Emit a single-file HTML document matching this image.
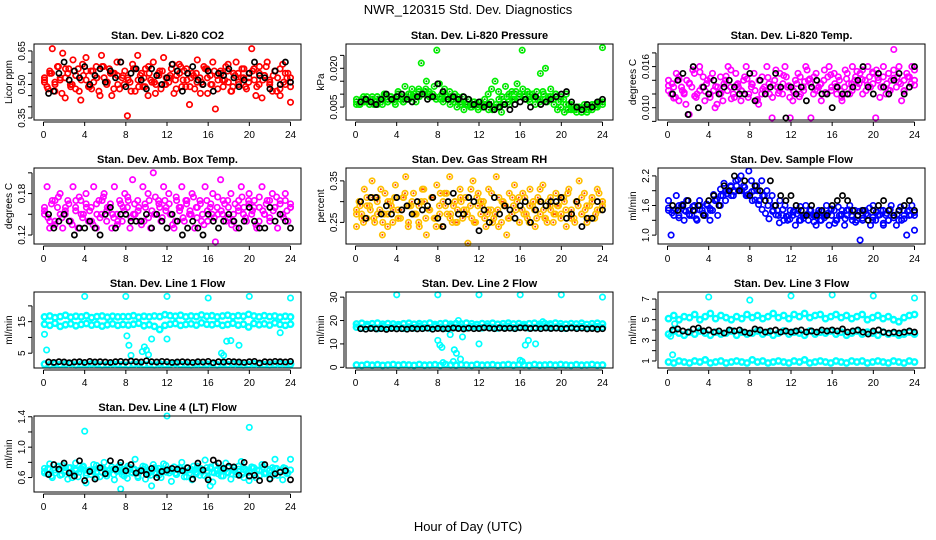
<!DOCTYPE html>
<html><head><meta charset="utf-8"><style>
html,body{margin:0;padding:0;background:#fff}
svg{display:block;font-family:"Liberation Sans",Arial,sans-serif}
</style></head><body>
<svg id="chart" width="936" height="540" viewBox="0 0 936 540" xmlns="http://www.w3.org/2000/svg">
<rect x="0" y="0" width="936" height="540" fill="#fff"/>
<text x="468" y="14" text-anchor="middle" font-size="13">NWR_120315  Std. Dev. Diagnostics</text>
<text x="468" y="531" text-anchor="middle" font-size="13">Hour of Day (UTC)</text>
</svg>
<script>
const hourTicks=[0,4,8,12,16,20,24];

const co2Colored=[0.53,0.49,0.56,0.66,0.47,0.58,0.52,0.64,0.44,0.55,0.50,0.61,0.48,0.57,0.43,0.54,0.62,0.49,0.56,0.51,0.58,0.47,0.63,0.53,0.50,0.57,0.45,0.55,0.60,0.48,0.53,0.56,0.36,0.51,0.59,0.47,0.63,0.54,0.49,0.57,0.45,0.52,0.60,0.50,0.55,0.48,0.62,0.53,0.51,0.57,0.46,0.54,0.59,0.49,0.56,0.52,0.41,0.55,0.48,0.61,0.53,0.50,0.57,0.46,0.54,0.60,0.39,0.52,0.56,0.49,0.58,0.51,0.47,0.55,0.60,0.50,0.53,0.57,0.48,0.55,0.66,0.52,0.49,0.58,0.44,0.54,0.60,0.51,0.47,0.56,0.53,0.45,0.59,0.50,0.55,0.42];
const co2Colored2=[0.51,0.55,0.50,0.53,0.57,0.49,0.54,0.52,0.56,0.48,0.53,0.58,0.51,0.55,0.50,0.54,0.52,0.57,0.49,0.53,0.55,0.51,0.56,0.50,0.54,0.52,0.58,0.49,0.53,0.55,0.51,0.57,0.50,0.54,0.52,0.56,0.49,0.55,0.53,0.51,0.57,0.50,0.54,0.52,0.56,0.48,0.55,0.53];
const co2Colored3=[0.52,0.48,0.55,0.51,0.58,0.46,0.53,0.57,0.50,0.54,0.47,0.59,0.52,0.49,0.56,0.53,0.45,0.58,0.51,0.55,0.48,0.54,0.60,0.50,0.53,0.47,0.57,0.52,0.55,0.49,0.58,0.51,0.46,0.54,0.56,0.50,0.53,0.59,0.48,0.55,0.52,0.57,0.49,0.54,0.51,0.46,0.58,0.53,0.50,0.56,0.48,0.55,0.52,0.59,0.47,0.54,0.51,0.57,0.49,0.53,0.56,0.45,0.55,0.52,0.58,0.50,0.54,0.47,0.57,0.51,0.53,0.49];
const co2Black=[0.46,0.47,0.55,0.60,0.52,0.56,0.53,0.58,0.50,0.54,0.57,0.51,0.56,0.53,0.60,0.49,0.55,0.57,0.52,0.48,0.57,0.54,0.50,0.53,0.59,0.56,0.47,0.55,0.58,0.52,0.50,0.56,0.47,0.55,0.54,0.57,0.53,0.49,0.52,0.55,0.60,0.54,0.53,0.48,0.56,0.50,0.60,0.51];

const presColored=[0.007,0.006,0.008,0.007,0.009,0.006,0.008,0.007,0.009,0.008,0.006,0.010,0.007,0.009,0.008,0.006,0.010,0.008,0.007,0.009,0.008,0.010,0.009,0.007,0.012,0.022,0.010,0.015,0.011,0.009,0.013,0.027,0.014,0.010,0.012,0.009,0.011,0.008,0.010,0.009,0.007,0.009,0.006,0.008,0.005,0.007,0.006,0.004,0.007,0.005,0.006,0.004,0.007,0.005,0.006,0.008,0.003,0.007,0.009,0.006,0.011,0.008,0.014,0.010,0.027,0.009,0.011,0.007,0.010,0.006,0.008,0.018,0.011,0.020,0.009,0.012,0.008,0.010,0.007,0.009,0.008,0.010,0.006,0.005,0.004,0.003,0.005,0.004,0.006,0.003,0.005,0.004,0.006,0.005,0.007,0.028];
const presColored2=[0.006,0.008,0.007,0.009,0.006,0.008,0.007,0.008,0.009,0.007,0.008,0.010,0.009,0.011,0.010,0.009,0.008,0.010,0.009,0.008,0.007,0.006,0.005,0.006,0.005,0.006,0.004,0.005,0.006,0.007,0.008,0.009,0.010,0.008,0.009,0.007,0.008,0.009,0.010,0.008,0.006,0.004,0.005,0.003,0.004,0.005,0.006,0.007];
const presColored3=[0.008,0.006,0.009,0.007,0.008,0.006,0.009,0.007,0.010,0.008,0.009,0.007,0.011,0.009,0.013,0.010,0.012,0.009,0.011,0.010,0.012,0.009,0.010,0.008,0.009,0.007,0.008,0.006,0.007,0.005,0.006,0.004,0.006,0.005,0.007,0.005,0.006,0.008,0.010,0.012,0.015,0.011,0.009,0.013,0.010,0.008,0.011,0.009,0.012,0.008,0.010,0.009,0.011,0.008,0.010,0.007,0.009,0.006,0.004,0.005,0.003,0.004,0.006,0.004,0.005,0.003,0.005,0.004,0.006,0.005,0.007,0.006];
const presBlack=[0.007,0.008,0.007,0.006,0.008,0.010,0.008,0.009,0.010,0.008,0.007,0.009,0.010,0.008,0.009,0.014,0.011,0.008,0.009,0.008,0.009,0.008,0.006,0.007,0.005,0.006,0.004,0.005,0.006,0.004,0.006,0.007,0.008,0.005,0.009,0.006,0.007,0.008,0.009,0.010,0.011,0.007,0.005,0.004,0.006,0.005,0.007,0.008];

const tempColored=[0.014,0.012,0.013,0.015,0.011,0.013,0.012,0.014,0.009,0.013,0.015,0.012,0.016,0.013,0.011,0.014,0.012,0.015,0.010,0.013,0.012,0.011,0.014,0.016,0.013,0.012,0.015,0.013,0.011,0.014,0.016,0.012,0.013,0.015,0.011,0.014,0.012,0.013,0.016,0.012,0.0085,0.014,0.013,0.015,0.012,0.016,0.013,0.0085,0.011,0.014,0.015,0.012,0.013,0.016,0.014,0.0085,0.012,0.015,0.013,0.011,0.014,0.012,0.016,0.013,0.015,0.012,0.014,0.011,0.013,0.015,0.012,0.016,0.014,0.013,0.015,0.012,0.014,0.016,0.013,0.015,0.0085,0.014,0.013,0.016,0.012,0.015,0.014,0.0185,0.013,0.016,0.011,0.014,0.015,0.013,0.016,0.014];
const tempColored2=[0.0132,0.0114,0.0141,0.0122,0.0136,0.0117,0.0152,0.0124,0.0143,0.0131,0.0121,0.0146,0.0113,0.0133,0.0124,0.0142,0.0134,0.0112,0.0127,0.0144,0.0133,0.0121,0.0147,0.0132,0.0123,0.0116,0.0138,0.0142,0.0126,0.0134,0.0122,0.0148,0.0131,0.0124,0.0142,0.0135,0.0153,0.0141,0.0133,0.0152,0.0144,0.0131,0.0126,0.0143,0.0137,0.0124,0.0145,0.0133];
const tempColored3=[0.0125,0.0135,0.0115,0.0145,0.0125,0.0105,0.0135,0.0155,0.0115,0.0125,0.0145,0.0135,0.0115,0.0125,0.0105,0.0145,0.0135,0.0125,0.0155,0.0115,0.0135,0.0125,0.0145,0.0115,0.0135,0.0125,0.0105,0.0145,0.0125,0.0135,0.0115,0.0155,0.0125,0.0135,0.0145,0.0115,0.0125,0.0135,0.0145,0.0125,0.0155,0.0135,0.0145,0.0125,0.0135,0.0155,0.0145,0.0125,0.0135,0.0145,0.0115,0.0155,0.0135,0.0125,0.0145,0.0135,0.0155,0.0125,0.0145,0.0135,0.0155,0.0115,0.0145,0.0135,0.0125,0.0155,0.0145,0.0135,0.0125,0.0145,0.0135,0.0155];
const tempBlack=[0.012,0.014,0.015,0.009,0.016,0.010,0.013,0.012,0.014,0.012,0.013,0.014,0.013,0.012,0.012,0.015,0.011,0.014,0.012,0.013,0.015,0.013,0.0085,0.013,0.012,0.013,0.011,0.013,0.014,0.012,0.012,0.010,0.013,0.012,0.012,0.013,0.014,0.016,0.013,0.012,0.015,0.013,0.012,0.014,0.015,0.012,0.013,0.016];

const ambColored=[0.15,0.19,0.13,0.17,0.14,0.16,0.18,0.13,0.15,0.17,0.14,0.19,0.16,0.13,0.17,0.15,0.18,0.14,0.16,0.19,0.13,0.17,0.15,0.18,0.14,0.16,0.13,0.19,0.15,0.17,0.14,0.18,0.16,0.13,0.20,0.15,0.17,0.14,0.19,0.16,0.18,0.13,0.21,0.15,0.17,0.14,0.19,0.16,0.18,0.15,0.13,0.17,0.16,0.19,0.14,0.17,0.15,0.18,0.13,0.16,0.17,0.15,0.19,0.14,0.16,0.18,0.11,0.15,0.20,0.17,0.14,0.16,0.18,0.15,0.13,0.17,0.19,0.16,0.14,0.18,0.15,0.17,0.13,0.16,0.19,0.15,0.17,0.14,0.18,0.16,0.13,0.17,0.15,0.18,0.14,0.16];
const ambColored2=[0.16,0.14,0.17,0.15,0.16,0.14,0.17,0.15,0.16,0.14,0.15,0.17,0.16,0.15,0.14,0.16,0.17,0.15,0.16,0.14,0.17,0.15,0.16,0.17,0.15,0.14,0.16,0.17,0.15,0.16,0.14,0.17,0.15,0.16,0.15,0.17,0.14,0.16,0.15,0.17,0.16,0.14,0.15,0.17,0.16,0.15,0.17,0.16];
const ambColored3=[0.155,0.145,0.165,0.135,0.175,0.145,0.155,0.165,0.135,0.155,0.175,0.145,0.165,0.155,0.135,0.165,0.145,0.175,0.155,0.165,0.145,0.135,0.165,0.155,0.175,0.145,0.165,0.155,0.135,0.165,0.145,0.155,0.175,0.165,0.145,0.155,0.165,0.135,0.175,0.155,0.145,0.165,0.155,0.175,0.145,0.165,0.135,0.155,0.165,0.145,0.175,0.155,0.165,0.145,0.135,0.165,0.155,0.175,0.145,0.165,0.155,0.135,0.175,0.155,0.165,0.145,0.155,0.175,0.165,0.145,0.155,0.165];
const ambBlack=[0.15,0.13,0.14,0.15,0.14,0.12,0.13,0.13,0.14,0.13,0.12,0.15,0.16,0.13,0.15,0.15,0.14,0.14,0.14,0.15,0.13,0.15,0.14,0.13,0.15,0.14,0.12,0.13,0.14,0.13,0.12,0.15,0.14,0.13,0.14,0.15,0.14,0.13,0.14,0.16,0.14,0.13,0.13,0.16,0.14,0.15,0.14,0.13];

const rhColored=[0.24,0.30,0.27,0.33,0.26,0.29,0.35,0.25,0.31,0.28,0.22,0.32,0.27,0.30,0.25,0.34,0.28,0.26,0.31,0.36,0.24,0.29,0.32,0.27,0.25,0.30,0.33,0.22,0.28,0.31,0.26,0.34,0.29,0.24,0.32,0.27,0.36,0.25,0.30,0.28,0.33,0.26,0.31,0.20,0.29,0.35,0.25,0.32,0.27,0.30,0.24,0.33,0.28,0.26,0.36,0.31,0.25,0.29,0.22,0.32,0.27,0.34,0.30,0.25,0.28,0.31,0.26,0.33,0.29,0.24,0.31,0.27,0.34,0.26,0.30,0.28,0.25,0.32,0.29,0.27,0.31,0.24,0.33,0.28,0.26,0.30,0.35,0.27,0.32,0.25,0.29,0.31,0.26,0.33,0.28,0.30];
const rhColored2=[0.28,0.26,0.29,0.31,0.27,0.25,0.30,0.28,0.26,0.31,0.29,0.27,0.24,0.30,0.28,0.26,0.32,0.29,0.27,0.25,0.30,0.28,0.26,0.31,0.29,0.27,0.25,0.28,0.30,0.26,0.29,0.31,0.27,0.25,0.28,0.30,0.26,0.29,0.27,0.31,0.28,0.26,0.30,0.27,0.29,0.31,0.28,0.30];
const rhColored3=[0.27,0.29,0.25,0.31,0.28,0.26,0.30,0.33,0.27,0.24,0.29,0.31,0.26,0.28,0.32,0.25,0.30,0.27,0.29,0.33,0.26,0.28,0.31,0.24,0.27,0.30,0.32,0.26,0.29,0.25,0.31,0.28,0.27,0.33,0.25,0.29,0.30,0.26,0.28,0.32,0.27,0.24,0.30,0.29,0.26,0.31,0.28,0.25,0.32,0.27,0.29,0.30,0.26,0.33,0.28,0.25,0.31,0.27,0.29,0.26,0.30,0.32,0.27,0.25,0.29,0.31,0.28,0.26,0.30,0.27,0.32,0.29];
const rhBlack=[0.30,0.26,0.31,0.31,0.27,0.29,0.27,0.31,0.28,0.29,0.27,0.30,0.28,0.29,0.31,0.26,0.24,0.30,0.32,0.27,0.27,0.31,0.30,0.23,0.28,0.25,0.31,0.27,0.29,0.28,0.26,0.29,0.30,0.25,0.28,0.30,0.29,0.30,0.30,0.31,0.26,0.27,0.30,0.24,0.26,0.26,0.30,0.28];

const flowColored=[1.7,1.0,1.5,1.8,1.4,1.6,1.3,1.7,1.5,1.4,1.6,1.3,1.7,1.5,1.4,1.6,1.3,1.5,1.7,1.4,1.6,1.8,1.7,1.9,2.0,1.8,2.1,1.9,2.2,2.0,1.8,2.3,2.1,1.9,2.0,1.7,2.1,1.8,1.9,1.7,1.8,1.6,1.5,1.7,1.4,1.6,1.3,1.5,1.4,1.2,1.5,1.3,1.4,1.6,1.3,1.5,1.4,1.2,1.5,1.3,1.4,1.6,1.2,1.4,1.5,1.3,1.4,1.5,1.2,1.4,1.6,1.3,1.5,1.4,0.9,1.3,1.5,1.4,1.2,1.6,1.3,1.4,1.5,1.2,1.4,1.3,1.6,1.4,1.2,1.5,1.3,1.4,1.0,1.5,1.6,1.1];
const flowColored2=[1.5,1.4,1.6,1.5,1.4,1.5,1.6,1.4,1.5,1.7,1.8,1.9,1.8,2.0,1.9,1.8,1.7,1.9,1.8,1.6,1.5,1.4,1.3,1.4,1.5,1.3,1.4,1.5,1.4,1.3,1.4,1.5,1.3,1.4,1.5,1.4,1.3,1.5,1.4,1.3,1.4,1.5,1.3,1.4,1.3,1.5,1.4,1.4];
const flowColored3=[1.55,1.45,1.52,1.35,1.62,1.48,1.42,1.58,1.33,1.51,1.44,1.63,1.54,1.82,1.72,1.93,2.05,1.84,1.98,1.88,2.12,1.91,1.97,1.82,1.88,1.71,1.62,1.52,1.44,1.33,1.48,1.41,1.25,1.52,1.38,1.32,1.47,1.43,1.58,1.34,1.42,1.51,1.27,1.43,1.49,1.35,1.44,1.53,1.24,1.57,1.42,1.33,1.51,1.38,1.26,1.48,1.34,1.43,1.55,1.36,1.47,1.41,1.24,1.44,1.52,1.35,1.42,1.57,1.33,1.48,1.41,1.46];
const flowBlack=[1.6,1.5,1.6,1.7,1.5,1.6,1.4,1.7,1.8,1.6,2.0,1.9,2.2,1.9,2.1,1.8,2.0,1.9,1.7,2.1,1.6,1.8,1.7,1.8,1.6,1.5,1.4,1.6,1.4,1.5,1.4,1.6,1.7,1.8,1.7,1.5,1.4,1.5,1.3,1.5,1.6,1.7,1.5,1.4,1.5,1.6,1.7,1.5];

const line1BandA=[16.5,16.8,16.3,16.6,17,16.4,16.7,16.5,16.9,16.3,16.6,16.8,16.4,16.7,16.5,16.6,16.6,16.9,16.4,16.7,16.5,16.8,16.6,17.2,16.9,16.7,17,16.5,16.8,16.6,17.1,16.7,16.9,16.5,16.8,17,16.6,16.9,16.7,17.3,16.8,16.5,16.9,16.6,16.8,16.4,16.7,16.5];
const line1BandB=[14.2,13.8,14.5,13.5,14,14.3,13.7,14.1,14.4,13.9,14.2,13.6,14,14.3,13.8,14.1,13.9,14.2,14.5,13.7,14,13.5,12.5,13.8,14.2,14.4,13.8,14.1,14.3,13.9,14.6,14.2,14,14.4,13.8,14.1,14.5,13.9,14.2,13.3,14.4,14,14.3,13.9,14.6,14.1,13.8,14.2];
const line1BandLow=[1.5,1.3,1.6,1.4,1.5,1.7,1.3,1.5,1.4,1.6,1.5,1.3,1.4,1.6,1.5,1.4,1.3,1.5,1.6,1.4,1.5,1.3,1.6,1.4,1.5,1.7,1.4,1.5,1.3,1.6,1.4,1.5,1.6,1.3,1.5,1.4,1.6,1.5,1.3,1.4,1.6,1.5,1.4,1.3,1.5,1.6,1.4,1.5];
const line1Outliers=[[0.1,11],[0.3,6],[4,23],[8,23],[8.1,10.5],[8.3,7.5],[8.5,4.3],[9.6,5.5],[9.8,7],[10,6],[10.2,4.5],[10.5,9.5],[12,23],[12,9.5],[16,22.5],[17.3,5],[17.5,4.3],[17.8,8.8],[18.2,9],[19,7.5],[20,23],[23,11.5],[24,22.5]];
const line1Black=[2.2,2.1,2.3,2.2,2.0,2.2,2.3,2.1,2.4,2.2,2.3,2.2,2.1,2.3,2.4,2.2,2.5,2.3,2.2,2.6,2.3,2.2,2.4,2.3,2.1,2.2,2.3,2.2,2.1,2.3,2.2,2.4,2.0,2.3,2.2,2.4,2.3,2.2,2.1,2.3,2.4,1.9,2.3,2.2,2.4,2.3,2.2,2.4];

const line2BandA=[18.5,18.8,18.3,18.6,18.9,18.4,18.7,18.5,18.2,18.6,18.8,18.4,18.7,18.5,18.9,18.3,18.6,18.8,18.4,18.7,18.5,18.9,18.6,18.3,18.7,18.5,18.8,18.4,18.6,18.9,18.5,18.7,18.3,18.6,18.8,18.4,18.7,18.5,18.9,18.6,18.4,18.7,18.5,18.8,18.3,18.6,18.8,18.5];
const line2BandB=[17.2,16.8,17.5,17,16.6,17.3,16.9,17.1,17.4,16.7,17.2,16.9,17.5,17,16.8,17.3,17.1,16.7,17.4,17,17.2,16.8,17.3,17.1,16.9,17.4,17,16.8,17.2,17.5,16.9,17.1,17.3,16.8,17,17.4,17.2,16.9,17.1,17.3,16.7,17.2,17,17.4,16.8,17.1,17.3,17];
const line2BandLow=[1.0,0.8,1.2,0.9,1.1,0.8,1.0,1.2,0.9,1.1,1.0,0.8,1.2,0.9,1.0,1.1,0.8,1.2,1.0,0.9,1.1,1.0,0.8,1.2,0.9,1.0,1.1,0.8,1.0,1.2,0.9,1.1,1.0,0.8,1.2,0.9,1.0,1.1,0.9,1.2,1.0,0.8,1.1,0.9,1.0,1.2,0.9,1.0];
const line2Outliers=[[4,31],[8,31],[12,31],[16,31],[20,31],[24,30],[8,11.5],[8.2,9.5],[8.4,8.5],[8.5,2],[9.5,2.5],[9.6,7.5],[9.8,6],[10,20],[10.2,3.5],[10.4,13],[9.2,14],[12,10],[16,3],[16.2,2.5],[16.5,9.5],[16.8,11.5],[17.5,10],[18.2,19.5],[19,18]];
const line2Black=[16.5,16.3,16.6,16.4,16.5,16.2,16.6,16.4,16.5,16.3,16.6,16.4,16.5,16.7,16.3,16.6,16.4,16.5,16.8,16.6,16.4,16.7,16.5,16.6,16.9,16.7,16.5,16.8,16.6,16.7,16.5,16.9,16.8,16.6,16.7,16.5,16.8,16.6,16.7,16.5,16.6,16.8,16.5,16.7,16.4,16.6,16.3,16.5];

const line3BandA=[5.1,5.4,5.0,5.3,5.2,5.5,5.0,5.3,5.6,5.1,5.4,5.2,5.0,5.3,5.1,5.5,5.2,5.4,5.1,5.3,5.6,5.2,5.4,5.1,5.5,5.3,5.6,5.2,5.4,5.5,5.1,5.3,5.5,5.2,5.4,5.1,5.3,5.5,5.0,5.2,5.4,5.1,5.3,5.0,4.8,5.2,5.4,5.5];
const line3BandB=[3.6,3.9,3.7,3.5,3.8,3.6,3.9,3.7,3.5,3.8,3.6,3.7,3.9,3.5,3.8,3.6,3.7,3.9,3.6,3.8,3.5,3.7,3.9,3.6,3.8,3.7,3.5,3.9,3.6,3.8,3.7,3.9,3.6,3.8,3.5,3.7,3.9,3.6,3.8,3.7,3.5,3.8,3.6,3.7,3.5,3.6,3.8,3.6];
const line3BandLow=[0.9,0.8,1.0,0.9,0.8,1.0,0.9,1.1,0.8,0.9,1.0,0.8,0.9,1.0,0.9,0.8,1.1,0.9,1.0,0.8,0.9,1.0,0.9,0.8,1.0,0.9,1.1,0.8,0.9,1.0,0.9,0.8,1.0,0.9,0.8,1.0,0.9,1.0,0.8,0.9,1.0,0.9,0.8,1.0,0.9,0.8,1.0,0.9];
const line3Outliers=[[0.3,3.4],[0.5,1.6],[0.7,4.6],[4,7.2],[8,6.9],[12,7.3],[16,7.4],[20,7.3],[24,7.1]];
const line3Black=[4.0,4.1,3.9,3.8,4.1,4.2,3.9,4.0,3.8,3.9,3.7,4.0,3.9,4.0,3.8,3.7,4.1,4.0,3.8,3.9,4.0,3.8,3.9,3.8,3.9,4.0,3.8,3.9,3.8,4.0,3.9,4.0,3.9,4.1,3.8,3.9,4.0,3.8,3.6,3.9,4.0,3.8,3.7,3.8,3.7,3.8,3.9,3.8];

const line4Colored=[0.72,0.65,0.78,0.60,0.70,0.74,0.63,0.76,0.68,0.58,0.73,0.66,0.79,0.61,0.71,0.75,0.53,0.69,0.64,0.77,0.60,0.72,0.67,0.80,0.62,0.70,0.74,0.57,0.68,0.76,0.64,0.71,0.59,0.73,0.66,0.84,0.62,0.70,0.75,0.58,0.69,0.63,0.77,0.65,0.72,0.60,0.78,0.67,0.71,0.55,0.74,0.64,0.69,0.80,0.61,0.73,0.66,0.57,0.70,0.75,0.63,0.68,0.83,0.60,0.72,0.54,0.76,0.65,0.70,0.62,0.79,0.67,0.58,0.73,0.64,0.71,0.81,0.60,0.69,0.56,0.74,0.66,0.70,0.62,0.77,0.65,0.71,0.59,0.73,0.84,0.63,0.69,0.57,0.72,0.66,0.84];
const line4Colored2=[0.68,0.71,0.66,0.70,0.73,0.67,0.69,0.72,0.66,0.70,0.68,0.73,0.65,0.71,0.69,0.67,0.72,0.70,0.66,0.71,0.68,0.73,0.67,0.70,0.69,0.66,0.72,0.68,0.71,0.65,0.70,0.73,0.67,0.69,0.72,0.66,0.70,0.68,0.71,0.67,0.73,0.69,0.66,0.70,0.72,0.68,0.67,0.70];
const line4Colored3=[0.66,0.72,0.62,0.70,0.75,0.64,0.69,0.73,0.60,0.71,0.67,0.74,0.63,0.70,0.68,0.76,0.61,0.72,0.66,0.70,0.64,0.73,0.69,0.62,0.75,0.67,0.71,0.60,0.70,0.74,0.65,0.68,0.72,0.63,0.70,0.76,0.66,0.71,0.64,0.73,0.69,0.61,0.70,0.75,0.67,0.72,0.63,0.69,0.74,0.66,0.71,0.62,0.70,0.73,0.65,0.68,0.75,0.64,0.71,0.67,0.72,0.60,0.70,0.74,0.66,0.69,0.63,0.72,0.68,0.73,0.65,0.70];
const line4Outliers=[[4,1.21],[12,1.41],[20,1.26],[7.5,0.45],[10.5,0.49],[16.2,0.49]];
const line4Black=[0.64,0.77,0.71,0.79,0.66,0.62,0.82,0.56,0.68,0.58,0.73,0.65,0.82,0.71,0.80,0.69,0.77,0.66,0.69,0.64,0.72,0.60,0.68,0.70,0.72,0.71,0.69,0.73,0.58,0.79,0.70,0.57,0.83,0.79,0.72,0.75,0.74,0.63,0.80,0.62,0.63,0.56,0.77,0.58,0.65,0.67,0.69,0.57];

const panels=[
 {name:'li820-co2',title:'Stan. Dev. Li-820 CO2',ylab:'Licor ppm',col:0,row:0,ylim:[0.341,0.681],ticks:[0.35,0.40,0.45,0.50,0.55,0.60,0.65],labels:['0.35','','','0.50','','','0.65'],color:'#ff0000',fill:'none',bands:[co2Colored,co2Colored2,co2Colored3],outliers:[],black:co2Black},
 {name:'li820-pressure',title:'Stan. Dev. Li-820 Pressure',ylab:'kPa',col:1,row:0,ylim:[0.0,0.0294],ticks:[0.005,0.010,0.015,0.020,0.025],labels:['0.005','','','0.020',''],color:'#00ee00',fill:'#00a000',bands:[presColored,presColored2,presColored3],outliers:[],black:presBlack},
 {name:'li820-temp',title:'Stan. Dev. Li-820 Temp.',ylab:'degrees C',col:2,row:0,ylim:[0.0082,0.0193],ticks:[0.008,0.010,0.012,0.014,0.016,0.018],labels:['','0.010','','','0.016',''],color:'#ff00ff',fill:'none',bands:[tempColored,tempColored2,tempColored3],outliers:[],black:tempBlack},
 {name:'amb-box-temp',title:'Stan. Dev. Amb. Box Temp.',ylab:'degrees C',col:0,row:1,ylim:[0.107,0.217],ticks:[0.12,0.15,0.18,0.21],labels:['0.12','','0.18',''],color:'#ff00ff',fill:'none',bands:[ambColored,ambColored2,ambColored3],outliers:[],black:ambBlack},
 {name:'gas-stream-rh',title:'Stan. Dev. Gas Stream RH',ylab:'percent',col:1,row:1,ylim:[0.198,0.381],ticks:[0.25,0.30,0.35],labels:['0.25','','0.35'],color:'#ffc000',fill:'#ff4000',bands:[rhColored,rhColored2,rhColored3],outliers:[],black:rhBlack},
 {name:'sample-flow',title:'Stan. Dev. Sample Flow',ylab:'ml/min',col:2,row:1,ylim:[0.82,2.36],ticks:[1.0,1.3,1.6,1.9,2.2],labels:['1.0','','1.6','','2.2'],color:'#0000ff',fill:'none',bands:[flowColored,flowColored2,flowColored3],outliers:[],black:flowBlack},
 {name:'line1-flow',title:'Stan. Dev. Line 1 Flow',ylab:'ml/min',col:0,row:2,ylim:[0.31,24.4],ticks:[5,10,15,20],labels:['5','','15',''],color:'#00ffff',fill:'none',bands:[line1BandA,line1BandB,line1BandLow],outliers:line1Outliers,black:line1Black,thick:true},
 {name:'line2-flow',title:'Stan. Dev. Line 2 Flow',ylab:'ml/min',col:1,row:2,ylim:[-0.3,32.2],ticks:[0,10,20,30],labels:['0','10','20','30'],color:'#00ffff',fill:'none',bands:[line2BandA,line2BandB,line2BandLow],outliers:line2Outliers,black:line2Black,thick:true},
 {name:'line3-flow',title:'Stan. Dev. Line 3 Flow',ylab:'ml/min',col:2,row:2,ylim:[0.32,7.68],ticks:[1,2,3,4,5,6,7],labels:['1','','3','','5','','7'],color:'#00ffff',fill:'none',bands:[line3BandA,line3BandB,line3BandLow],outliers:line3Outliers,black:line3Black,thick:true},
 {name:'line4-flow',title:'Stan. Dev. Line 4 (LT) Flow',ylab:'ml/min',col:0,row:3,ylim:[0.41,1.41],ticks:[0.6,0.8,1.0,1.2,1.4],labels:['0.6','','1.0','','1.4'],color:'#00ffff',fill:'none',bands:[line4Colored,line4Colored2,line4Colored3],outliers:line4Outliers,black:line4Black}
];

const NS='http://www.w3.org/2000/svg';
const svg=document.getElementById('chart');
function el(tag,parent){const e=document.createElementNS(NS,tag);parent.appendChild(e);return e;}

panels.forEach(p=>{
 const left=34+312*p.col, top=44+124*p.row, w=267, h=76;
 const x0=left+9.5, xs=247/24;
 const X=v=>x0+v*xs;
 const Y=v=>top+h-(v-p.ylim[0])/(p.ylim[1]-p.ylim[0])*h;
 const g=el('g',svg);
 
 
 const t=el('text',g);
 
 
 t.setAttribute('x',left+w/2);t.setAttribute('y',top-5);t.setAttribute('text-anchor','middle');
 t.setAttribute('font-size','11');t.setAttribute('font-weight','bold');t.textContent=p.title;
 const yl=el('text',g);
 
 
 yl.setAttribute('transform','translate('+(left-22)+','+(top+h/2)+') rotate(-90)');
 yl.setAttribute('text-anchor','middle');yl.setAttribute('font-size','10');yl.textContent=p.ylab;
 const pts=el('g',g);
 
 
 function dot(parent,hx,v,stroke,fill,sw,rad){
   const c=el('circle',parent);
   c.setAttribute('cx',X(hx).toFixed(1));c.setAttribute('cy',Y(v).toFixed(1));c.setAttribute('r',rad);
   c.setAttribute('fill','none');c.setAttribute('stroke',stroke);c.setAttribute('stroke-width',sw);
   if(fill!=='none'){const d=el('circle',parent);d.setAttribute('cx',X(hx).toFixed(1));d.setAttribute('cy',Y(v).toFixed(1));d.setAttribute('r','1');d.setAttribute('fill',fill);}
 }
 const csw=p.thick?'2.4':'1.7';
 p.bands.forEach(arr=>{
   arr.forEach((v,i)=>dot(pts,0.1+i*23.9/(arr.length-1),v,p.color,p.fill,csw,'2.7'));
 });
 p.outliers.forEach(o=>dot(pts,o[0],o[1],p.color,p.fill,'1.7','2.7'));
 const bk=el('g',g);
 
 
 p.black.forEach((v,i)=>dot(bk,0.5+i*23.5/(p.black.length-1),v,'#000','none','1.7','2.6'));
 const r=el('rect',g);
 
 
 r.setAttribute('x',left);r.setAttribute('y',top);r.setAttribute('width',w);r.setAttribute('height',h);
 r.setAttribute('fill','none');r.setAttribute('stroke','#000');r.setAttribute('stroke-width','1');
 const xa=el('g',g);
 
 
 const xl=el('line',xa);
 xl.setAttribute('x1',X(0));xl.setAttribute('x2',X(24));xl.setAttribute('y1',top+h+2);xl.setAttribute('y2',top+h+2);xl.setAttribute('stroke','#000');
 hourTicks.forEach(tv=>{
   const l=el('line',xa);l.setAttribute('x1',X(tv));l.setAttribute('x2',X(tv));l.setAttribute('y1',top+h+2);l.setAttribute('y2',top+h+6);l.setAttribute('stroke','#000');
   const tx=el('text',xa);tx.setAttribute('x',X(tv));tx.setAttribute('y',top+h+18);tx.setAttribute('text-anchor','middle');tx.setAttribute('font-size','10');tx.textContent=tv;
 });
 const ya=el('g',g);
 
 
 const yline=el('line',ya);
 yline.setAttribute('x1',left-2);yline.setAttribute('x2',left-2);yline.setAttribute('y1',Y(p.ticks[0]));yline.setAttribute('y2',Y(p.ticks[p.ticks.length-1]));yline.setAttribute('stroke','#000');
 p.ticks.forEach((tv,i)=>{
   const l=el('line',ya);l.setAttribute('x1',left-2);l.setAttribute('x2',left-6);l.setAttribute('y1',Y(tv));l.setAttribute('y2',Y(tv));l.setAttribute('stroke','#000');
   if(p.labels[i]){
     const tx=el('text',ya);tx.setAttribute('transform','translate('+(left-9)+','+Y(tv)+') rotate(-90)');
     tx.setAttribute('text-anchor','middle');tx.setAttribute('font-size','10');tx.textContent=p.labels[i];
   }
 });
});
</script>
</body></html>
